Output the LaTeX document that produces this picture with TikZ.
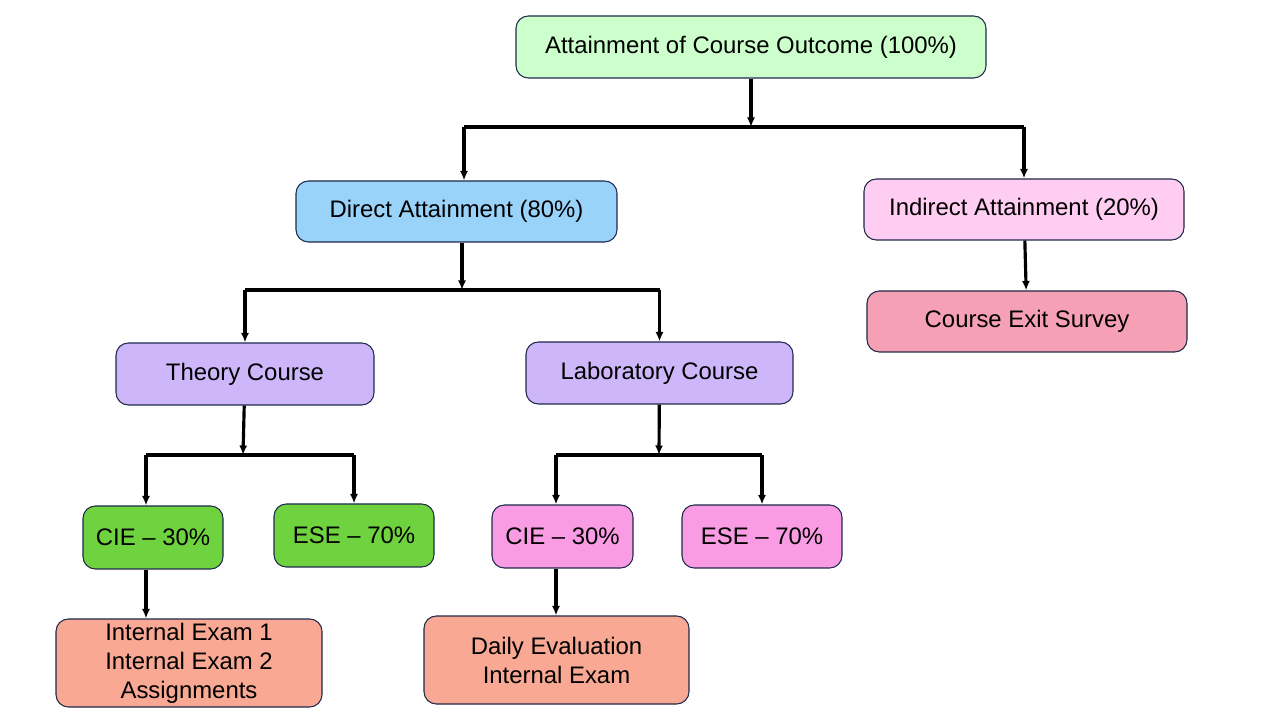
\documentclass[tikz,border=0pt]{standalone}
\usepackage{fontspec}
\setmainfont{Liberation Sans}
\usetikzlibrary{arrows.meta}

\definecolor{topgreen}{HTML}{CCFFCC}
\definecolor{directblue}{HTML}{99D3FA}
\definecolor{indirectpink}{HTML}{FFCCF2}
\definecolor{surveyrose}{HTML}{F5A0B4}
\definecolor{courselilac}{HTML}{CDB7FA}
\definecolor{theorygreen}{HTML}{6ED33F}
\definecolor{labpink}{HTML}{F99CE4}
\definecolor{examsalmon}{HTML}{F9A893}
\definecolor{boxline}{HTML}{1F2A4A}

\begin{document}
\begin{tikzpicture}[align=center,
	box/.style={draw=boxline, line width=0.6pt, rounded corners=7pt, inner sep=0pt,
		font=\fontsize{13.6}{16.5}\selectfont},
	arr/.style={line width=1.8pt, -{Latex[length=1.9mm,width=1.6mm]}},
	bar/.style={line width=1.8pt}]
		
		\useasboundingbox (0,0) rectangle (25.6,14.4);
		
		\node[box, fill=topgreen, minimum width=9.4cm, minimum height=1.24cm] (outcome) at (15.02,13.46) {Attainment of Course Outcome (100\%)};
		
		\node[box, fill=directblue, minimum width=6.42cm, minimum height=1.22cm] (direct) at (9.13,10.17) {Direct Attainment (80\%)};
		\node[box, fill=indirectpink, minimum width=6.4cm, minimum height=1.22cm] (indirect) at (20.48,10.21) {Indirect Attainment (20\%)};
		\node[box, fill=surveyrose, minimum width=6.4cm, minimum height=1.22cm] (survey) at (20.54,7.97) {Course Exit Survey};
		
		\node[box, fill=courselilac, minimum width=5.16cm, minimum height=1.24cm] (theory) at (4.9,6.92) {Theory Course};
		\node[box, fill=courselilac, minimum width=5.34cm, minimum height=1.24cm] (lab) at (13.19,6.94) {Laboratory Course};
		
		\node[box, fill=theorygreen, minimum width=2.8cm, minimum height=1.26cm] (cieT) at (3.06,3.65) {CIE -- 30\%};
		\node[box, fill=theorygreen, minimum width=3.2cm, minimum height=1.26cm] (eseT) at (7.08,3.69) {ESE -- 70\%};
		\node[box, fill=labpink, minimum width=2.82cm, minimum height=1.26cm] (cieL) at (11.25,3.67) {CIE -- 30\%};
		\node[box, fill=labpink, minimum width=3.2cm, minimum height=1.26cm] (eseL) at (15.24,3.67) {ESE -- 70\%};
		
		\node[box, fill=examsalmon, minimum width=5.32cm, minimum height=1.76cm] (examT) at (3.78,1.14) {Internal Exam 1\\Internal Exam 2\\Assignments};
		\node[box, fill=examsalmon, minimum width=5.3cm, minimum height=1.76cm] (examL) at (11.13,1.2) {Daily Evaluation\\Internal Exam};
		
		% junctions and drop points
		\coordinate (j1) at (15.02,11.86);
		\coordinate (j2) at (9.24,8.6);
		\coordinate (j3) at (4.86,5.3);
		\coordinate (j4) at (13.18,5.3);
		\coordinate (dropD) at (9.28,11.86);
		\coordinate (dropT) at (2.92,5.3);
		\coordinate (dropL) at (11.12,5.3);
		
		\draw[arr] (outcome) -- (j1);
		\draw[bar] (dropD) -- (j1 -| indirect);
		\draw[arr] (dropD) -- (dropD |- direct.north);
		\draw[arr] (j1 -| indirect) -- (indirect);
		\draw[arr] (indirect) -- (survey);
		
		\draw[arr] (direct.south -| j2) -- (j2);
		\draw[bar] (j2 -| theory) -- (j2 -| lab);
		\draw[arr] (j2 -| theory) -- (theory);
		\draw[arr] (j2 -| lab) -- (lab);
		
		\draw[arr] (theory) -- (j3);
		\draw[bar] (dropT) -- (j3 -| eseT);
		\draw[arr] (dropT) -- (dropT |- cieT.north);
		\draw[arr] (j3 -| eseT) -- (eseT);
		
		\draw[arr] (lab) -- (j4);
		\draw[bar] (dropL) -- (j4 -| eseL);
		\draw[arr] (dropL) -- (dropL |- cieL.north);
		\draw[arr] (j4 -| eseL) -- (eseL);
		
		\draw[arr] (dropT |- cieT.south) -- (dropT |- examT.north);
		\draw[arr] (dropL |- cieL.south) -- (dropL |- examL.north);
	\end{tikzpicture}
\end{document}
